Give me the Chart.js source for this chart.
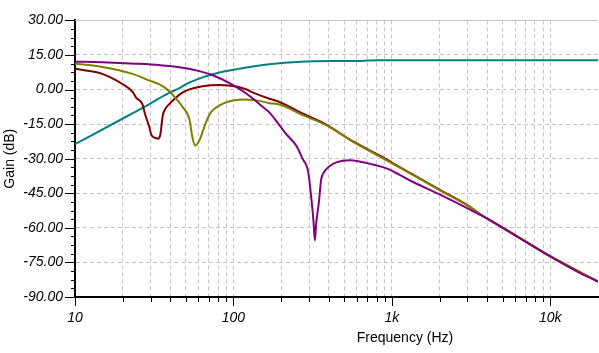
<!DOCTYPE html>
<html>
<head>
<meta charset="utf-8">
<script src="https://cdn.jsdelivr.net/npm/chart.js@4.4.0/dist/chart.umd.min.js"></script>
<style>
html,body{margin:0;padding:0;background:#fff;}
canvas{display:block;}
</style>
</head>
<body>
<canvas id="c" width="599" height="353"></canvas>
<script>
// ---- data (frequency in Hz, gain in dB) ----
const tealFreq = [10, 21, 29.5, 39.5, 45.7, 50.4, 63.8, 81.7, 104.6, 132, 169, 195, 316, 540, 836, 2000, 20000];
const tealGain = [-23.7, -11.8, -6.3, -1.3, 0.6, 2.4, 5.3, 7.4, 8.8, 10.0, 11.0, 11.4, 12.3, 12.4, 12.7, 12.7, 12.7];

const purpleFreq = [10, 14.9, 24.3, 34.2, 45.7, 61, 74, 94.5, 104.6, 121, 132, 152.7, 169, 195.4, 216.4, 250, 273, 296, 310, 320, 326.5, 333, 346, 358, 372, 404, 445.7, 540, 625, 755, 926, 1119, 1352, 2000, 3094, 3580, 4142, 5781, 9480, 15310, 20000];
const purpleGain = [12.1, 11.8, 11.2, 10.6, 9.7, 8.0, 6.2, 2.8, 1.0, -1.8, -3.8, -7.5, -10.0, -15.5, -19.5, -24.5, -30, -35.5, -47, -57, -65.5, -58, -49, -39, -36, -33.3, -31.6, -30.7, -31.2, -32.5, -34.2, -37.0, -40.0, -45.5, -52.0, -54.3, -56.5, -62.6, -71.5, -79.5, -83.3];

const oliveFreq = [10, 14.3, 23.1, 29.5, 34.2, 39.5, 43.5, 47.7, 52.8, 55.2, 57.4, 61.1, 67.3, 72.4, 81.7, 94.5, 114, 139.3, 169, 195.4, 273, 385, 565, 836, 1119, 1352, 2000, 3094, 3580, 5781, 9480, 20000];
const oliveGain = [11.2, 10.0, 6.8, 3.9, 2.2, -0.8, -4.0, -7.5, -13, -21, -24.3, -21.9, -14, -9.7, -6.9, -5.1, -4.3, -4.7, -5.9, -6.5, -11.1, -15.4, -22.6, -29.0, -33.9, -37.0, -43.6, -50.9, -54.0, -62.5, -71.4, -83.3];

const redFreq = [10, 12.4, 14.3, 16.5, 20, 23.1, 24.3, 26.7, 27.5, 29.5, 30.3, 31.8, 33.3, 34.5, 35.8, 36.7, 39.5, 45.7, 50.4, 63.8, 81.7, 104.6, 121, 132, 169, 195.4, 273, 385, 565, 836, 1119, 1352, 2000, 3094, 3580, 5781, 9480, 20000];
const redGain = [9.0, 8.0, 7.2, 5.5, 2.3, -1.0, -3.5, -6.5, -10, -16.5, -19.6, -20.9, -21.3, -19.8, -11.3, -9.0, -6.2, -2.2, -0.5, 1.4, 2.0, 1.3, 0, -1.2, -4.0, -5.4, -10.4, -15.2, -22.4, -28.6, -33.6, -36.8, -43.4, -50.8, -53.9, -62.5, -71.4, -83.3];

// ---- axes ----
const xMin = 10, xMax = 20000;
const xTickLabels = {10: '10', 100: '100', 1000: '1k', 10000: '10k'};
const xTickValues = [];
for (const d of [10, 100, 1000, 10000]) for (let m = 1; m <= 9; m++) if (m * d < xMax) xTickValues.push(m * d);
const yMin = -90, yMax = 30, yStep = 15, yMinorStep = 3.75;
const xTitle = 'Frequency (Hz)';
const yTitle = 'Gain (dB)';

const pts = (fs, gs) => fs.map((f, i) => ({x: f, y: gs[i]}));
const FONT = 'Liberation Sans, Arial, sans-serif';
const GRID = '#c4c4c4';

const mkSet = (label, fs, gs, color) => ({
  label, data: pts(fs, gs), borderColor: color, backgroundColor: color,
  borderWidth: 2, pointRadius: 0, fill: false, cubicInterpolationMode: 'monotone'
});

const decor = {
  id: 'decor',
  beforeDatasetsDraw(chart) {
    const {ctx, chartArea: a} = chart;
    ctx.save();
    ctx.strokeStyle = GRID;
    ctx.lineWidth = 1;
    ctx.setLineDash([]);
    ctx.beginPath();
    ctx.moveTo(a.left, Math.round(a.top) + 0.5);
    ctx.lineTo(a.right, Math.round(a.top) + 0.5);
    ctx.stroke();
    ctx.restore();
  },
  afterDraw(chart) {
    const {ctx, scales: {x, y}, chartArea: a} = chart;
    ctx.save();
    ctx.strokeStyle = '#000';
    ctx.lineWidth = 1;
    for (let v = yMin; v <= yMax + 1e-9; v += yMinorStep) {
      const py = Math.round(y.getPixelForValue(v)) + 0.5;
      const major = Math.abs(v / yStep - Math.round(v / yStep)) < 1e-6;
      ctx.beginPath();
      ctx.moveTo(a.left - (major ? 10 : 4), py);
      ctx.lineTo(a.left, py);
      ctx.stroke();
    }
    for (const v of xTickValues) {
      const px = Math.round(x.getPixelForValue(v)) + 0.5;
      const major = xTickLabels[v] !== undefined;
      ctx.beginPath();
      ctx.moveTo(px, a.bottom);
      ctx.lineTo(px, a.bottom + (major ? 9 : 5));
      ctx.stroke();
    }
    ctx.fillStyle = '#000';
    ctx.font = '14px ' + FONT;
    ctx.textAlign = 'center';
    ctx.textBaseline = 'middle';
    ctx.fillText(xTitle, 405, 338);
    ctx.restore();
  }
};

new Chart(document.getElementById('c'), {
  type: 'line',
  data: {
    datasets: [
      mkSet('V3', purpleFreq, purpleGain, '#800080'),
      mkSet('V2', oliveFreq, oliveGain, '#808000'),
      mkSet('V1', redFreq, redGain, '#800000'),
      mkSet('V4', tealFreq, tealGain, '#008080')
    ]
  },
  options: {
    responsive: false,
    animation: false,
    devicePixelRatio: 1,
    layout: {padding: {top: 17, right: 1, left: 0, bottom: 0}},
    plugins: {legend: {display: false}, tooltip: {enabled: false}},
    scales: {
      x: {
        type: 'logarithmic', min: xMin, max: xMax, bounds: 'data',
        afterBuildTicks: s => { s.ticks = xTickValues.map(v => ({value: v})); },
        ticks: {
          autoSkip: false, maxRotation: 0, padding: 13, color: '#000',
          font: {family: FONT, size: 14, style: 'italic'},
          callback: v => (xTickLabels[v] !== undefined ? xTickLabels[v] : '')
        },
        grid: {drawTicks: false, lineWidth: 1,
          color: c => (c.tick && c.tick.value === xMin) ? 'rgba(0,0,0,0)' : GRID},
        border: {display: true, color: '#000', width: 2, dash: [4, 3]},
        afterFit: s => { s.height = 56; }
      },
      y: {
        min: yMin, max: yMax,
        ticks: {stepSize: yStep, padding: 12, color: '#000',
          font: {family: FONT, size: 14, style: 'italic'},
          callback: v => Number(v).toFixed(2)},
        grid: {drawTicks: false, lineWidth: 1,
          color: c => (c.tick && (c.tick.value === yMin || c.tick.value === yMax)) ? 'rgba(0,0,0,0)' : GRID},
        border: {display: true, color: '#000', width: 2, dash: [4, 3]},
        title: {display: true, text: yTitle, color: '#000',
          font: {family: FONT, size: 14}, padding: {top: 2, bottom: 0}},
        afterFit: s => { s.width = 75; }
      }
    }
  },
  plugins: [decor]
});
</script>
</body>
</html>
